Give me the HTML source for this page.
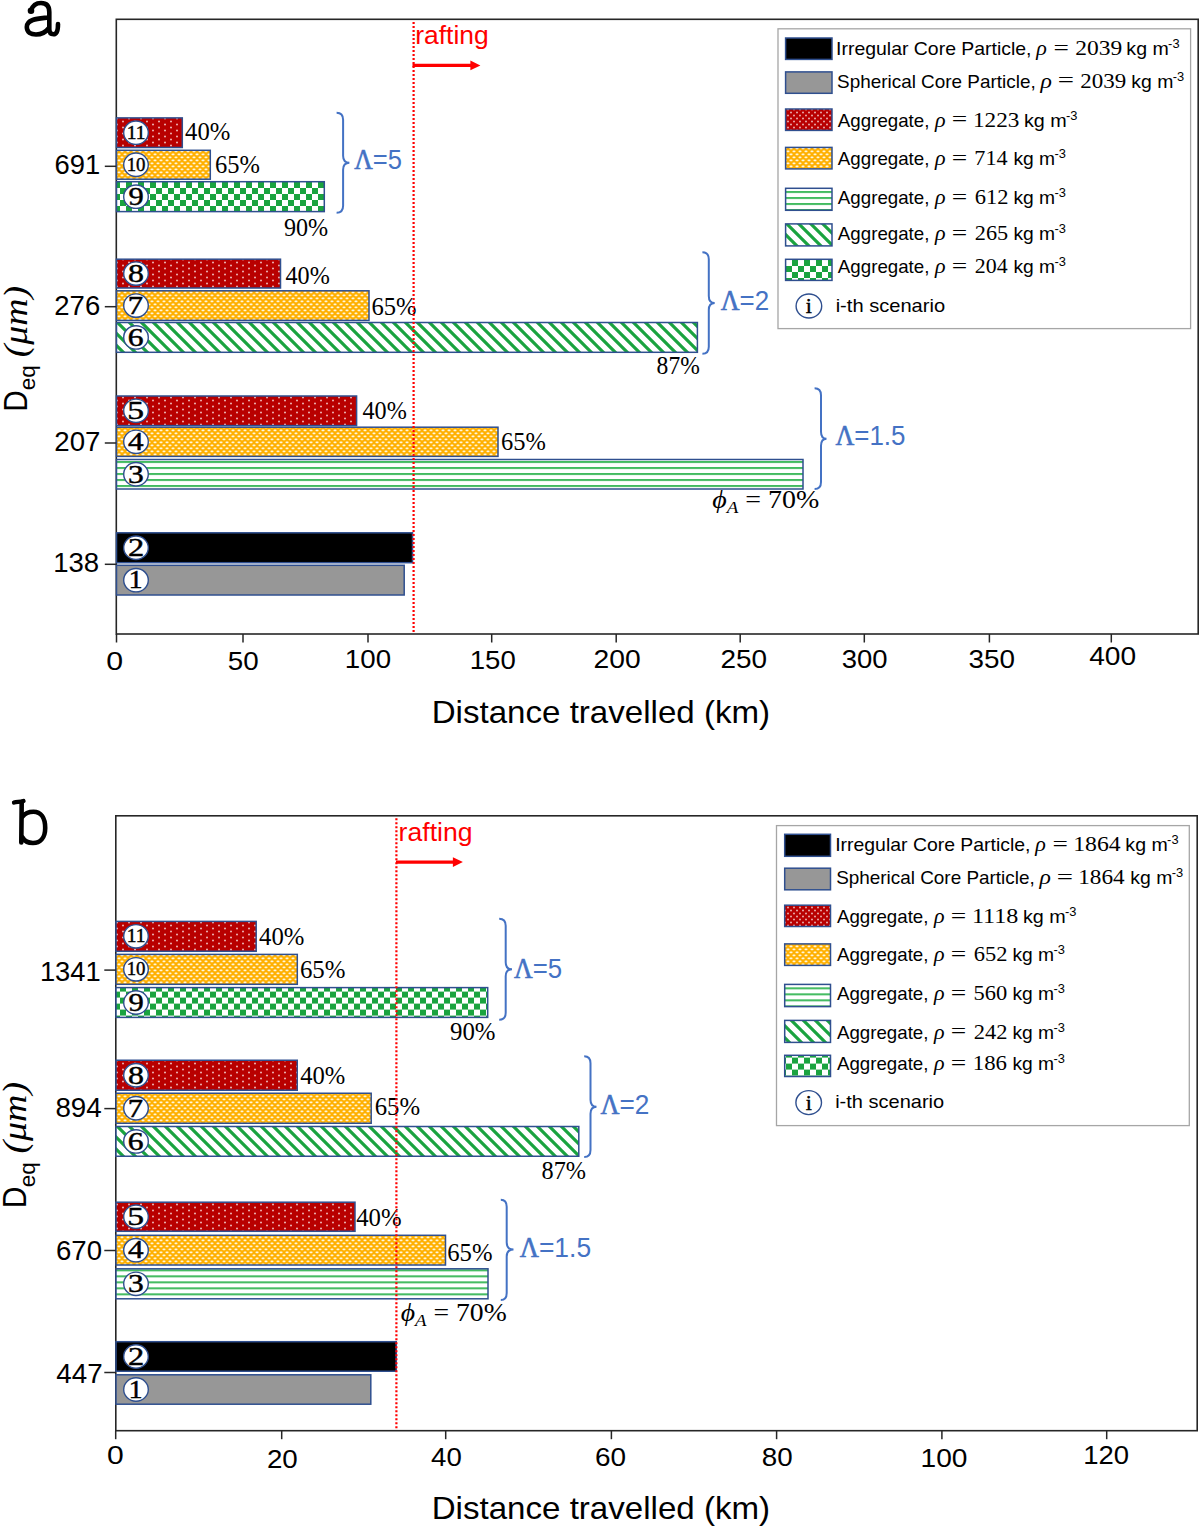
<!DOCTYPE html>
<html><head><meta charset="utf-8"><title>Distance travelled</title><style>html,body{margin:0;padding:0;background:#fff;}svg{display:block;}</style></head><body>
<svg width="1200" height="1527" viewBox="0 0 1200 1527">
<defs>
<pattern id="pRed" width="12" height="6" patternUnits="userSpaceOnUse">
<rect width="12" height="6" fill="#B80000"/>
<rect x="2.2" y="0.7" width="1.6" height="1.6" fill="#F5D0D0"/>
<rect x="8.2" y="3.7" width="1.6" height="1.6" fill="#F5D0D0"/>
</pattern>
<pattern id="pRedL" width="6" height="6" patternUnits="userSpaceOnUse">
<rect width="6" height="6" fill="#B80000"/>
<rect x="1.2" y="0.7" width="1.6" height="1.6" fill="#F0C4C4"/>
<rect x="4.2" y="3.7" width="1.6" height="1.6" fill="#F0C4C4"/>
</pattern>
<pattern id="pYel" width="6" height="6" patternUnits="userSpaceOnUse">
<rect width="6" height="6" fill="#FFB000"/>
<rect x="0.5" y="0.5" width="3" height="1.8" rx="0.8" fill="#FFF6DA"/>
<rect x="3.5" y="3.5" width="3" height="1.8" rx="0.8" fill="#FFF6DA"/>
<rect x="-2.5" y="3.5" width="3" height="1.8" rx="0.8" fill="#FFF6DA"/>
</pattern>
<pattern id="pChkA" width="12" height="12" patternUnits="userSpaceOnUse" patternTransform="translate(0,2)">
<rect width="12" height="12" fill="#fff"/>
<rect x="6" y="0" width="6" height="6" fill="#1AA33F"/>
<rect x="0" y="6" width="6" height="6" fill="#1AA33F"/>
</pattern>
<pattern id="pChkB" width="12" height="12" patternUnits="userSpaceOnUse" patternTransform="translate(0,1.6)">
<rect width="12" height="12" fill="#fff"/>
<rect x="0" y="0" width="6" height="6" fill="#1AA33F"/>
<rect x="6" y="6" width="6" height="6" fill="#1AA33F"/>
</pattern>
<pattern id="pDiagA" width="12" height="12" patternUnits="userSpaceOnUse" patternTransform="translate(-1,0)">
<rect width="12" height="12" fill="#fff"/>
<path d="M-3,-3 L15,15 M-15,-3 L3,15 M9,-3 L27,15" stroke="#1AA33F" stroke-width="3.2"/>
</pattern>
<pattern id="pDiagB" width="12" height="12" patternUnits="userSpaceOnUse" patternTransform="translate(-1,0)">
<rect width="12" height="12" fill="#fff"/>
<path d="M-3,-3 L15,15 M-15,-3 L3,15 M9,-3 L27,15" stroke="#1AA33F" stroke-width="3.2"/>
</pattern>
<pattern id="pHstA" width="6" height="6" patternUnits="userSpaceOnUse" patternTransform="translate(0,-0.9)">
<rect width="6" height="6" fill="#fff"/>
<rect x="0" y="0" width="6" height="1.8" fill="#2DB34E"/>
</pattern>
<pattern id="pHstB" width="6" height="6" patternUnits="userSpaceOnUse" patternTransform="translate(0,3.4)">
<rect width="6" height="6" fill="#fff"/>
<rect x="0" y="0" width="6" height="1.8" fill="#2DB34E"/>
</pattern>
</defs>
<rect width="1200" height="1527" fill="#fff"/>
<g fill="none" stroke="#000" stroke-linecap="round"><path d="M31,10.5 C33,4.5 37,3 41,3 C46.5,3 49.3,6 49.3,12 L49.3,29 C49.3,33 51,34.3 53.5,34.3 C56.5,34.3 58,32 58,24" stroke-width="4.6"/><path d="M48,17.5 C40,18.5 26.8,18.5 26.8,27 C26.8,32.5 31,34.5 36,34.5 C41,34.5 45.5,32.5 48.5,28.5" stroke-width="4.6"/></g><circle cx="31" cy="10.8" r="3.3" fill="#000"/>
<g fill="none" stroke="#000" stroke-linecap="round"><path d="M21.7,802 L21.3,842.5" stroke-width="4.6"/><path d="M14,802.5 C17,801.5 20,802.5 23.5,801" stroke-width="4.3"/><path d="M22.5,816.5 C25.5,812.5 29.5,811.7 33.5,811.7 C41,811.7 45.2,818 45.2,828 C45.2,838 40,843 33,843 C28.5,843 24.5,841 22.5,837.5" stroke-width="4.6"/></g>
<rect x="116.3" y="19.3" width="1081.9" height="614.7" fill="none" stroke="#262626" stroke-width="1.6"/>
<rect x="116.5" y="117.9" width="65.80000000000001" height="29.599999999999994" fill="url(#pRed)" stroke="#2F4F8F" stroke-width="1.5"/>
<ellipse cx="136" cy="132.7" rx="12.3" ry="11.7" fill="#fff" stroke="#2F4F8F" stroke-width="1.4"/>
<text x="126.7" y="138.7" font-family='"Liberation Serif", serif' font-size="18" fill="#000" text-anchor="start" textLength="18.8" lengthAdjust="spacingAndGlyphs" stroke="#000" stroke-width="0.4">11</text>
<rect x="116.5" y="150.3" width="93.80000000000001" height="28.899999999999977" fill="url(#pYel)" stroke="#2F4F8F" stroke-width="1.5"/>
<ellipse cx="136" cy="164.75" rx="12.3" ry="11.7" fill="#fff" stroke="#2F4F8F" stroke-width="1.4"/>
<text x="126.7" y="170.75" font-family='"Liberation Serif", serif' font-size="18" fill="#000" text-anchor="start" textLength="18.8" lengthAdjust="spacingAndGlyphs" stroke="#000" stroke-width="0.4">10</text>
<rect x="116.5" y="181.7" width="207.8" height="29.900000000000006" fill="url(#pChkA)" stroke="#2F4F8F" stroke-width="1.5"/>
<ellipse cx="136" cy="196.64999999999998" rx="12.3" ry="11.7" fill="#fff" stroke="#2F4F8F" stroke-width="1.4"/>
<text x="128.52" y="204.95" font-family='"Liberation Serif", serif' font-size="24.5" fill="#000" text-anchor="start" textLength="15.23" lengthAdjust="spacingAndGlyphs" stroke="#000" stroke-width="0.45">9</text>
<rect x="116.5" y="259.2" width="164.0" height="28.80000000000001" fill="url(#pRed)" stroke="#2F4F8F" stroke-width="1.5"/>
<ellipse cx="136" cy="273.6" rx="12.3" ry="11.7" fill="#fff" stroke="#2F4F8F" stroke-width="1.4"/>
<text x="128.04" y="281.90000000000003" font-family='"Liberation Serif", serif' font-size="24.5" fill="#000" text-anchor="start" textLength="15.93" lengthAdjust="spacingAndGlyphs" stroke="#000" stroke-width="0.45">8</text>
<rect x="116.5" y="290.8" width="252.5" height="29.599999999999966" fill="url(#pYel)" stroke="#2F4F8F" stroke-width="1.5"/>
<ellipse cx="136" cy="305.6" rx="12.3" ry="11.7" fill="#fff" stroke="#2F4F8F" stroke-width="1.4"/>
<text x="127.78" y="313.90000000000003" font-family='"Liberation Serif", serif' font-size="24.5" fill="#000" text-anchor="start" textLength="15.3" lengthAdjust="spacingAndGlyphs" stroke="#000" stroke-width="0.45">7</text>
<rect x="116.5" y="322.5" width="580.9" height="29.80000000000001" fill="url(#pDiagA)" stroke="#2F4F8F" stroke-width="1.5"/>
<ellipse cx="136" cy="337.4" rx="12.3" ry="11.7" fill="#fff" stroke="#2F4F8F" stroke-width="1.4"/>
<text x="127.89" y="345.7" font-family='"Liberation Serif", serif' font-size="24.5" fill="#000" text-anchor="start" textLength="15.8" lengthAdjust="spacingAndGlyphs" stroke="#000" stroke-width="0.45">6</text>
<rect x="116.5" y="396.0" width="240.10000000000002" height="29.600000000000023" fill="url(#pRed)" stroke="#2F4F8F" stroke-width="1.5"/>
<ellipse cx="136" cy="410.8" rx="12.3" ry="11.7" fill="#fff" stroke="#2F4F8F" stroke-width="1.4"/>
<text x="127.3" y="419.1" font-family='"Liberation Serif", serif' font-size="24.5" fill="#000" text-anchor="start" textLength="16.76" lengthAdjust="spacingAndGlyphs" stroke="#000" stroke-width="0.45">5</text>
<rect x="116.5" y="427.2" width="381.5" height="29.19999999999999" fill="url(#pYel)" stroke="#2F4F8F" stroke-width="1.5"/>
<ellipse cx="136" cy="441.79999999999995" rx="12.3" ry="11.7" fill="#fff" stroke="#2F4F8F" stroke-width="1.4"/>
<text x="128.14" y="450.09999999999997" font-family='"Liberation Serif", serif' font-size="24.5" fill="#000" text-anchor="start" textLength="15.6" lengthAdjust="spacingAndGlyphs" stroke="#000" stroke-width="0.45">4</text>
<rect x="116.5" y="459.5" width="686.5" height="29.5" fill="url(#pHstA)" stroke="#2F4F8F" stroke-width="1.5"/>
<ellipse cx="136" cy="474.25" rx="12.3" ry="11.7" fill="#fff" stroke="#2F4F8F" stroke-width="1.4"/>
<text x="127.99" y="482.55" font-family='"Liberation Serif", serif' font-size="24.5" fill="#000" text-anchor="start" textLength="15.74" lengthAdjust="spacingAndGlyphs" stroke="#000" stroke-width="0.45">3</text>
<rect x="116.5" y="532.8" width="296.0" height="29.90000000000009" fill="#000" stroke="#2F4F8F" stroke-width="1.5"/>
<ellipse cx="136" cy="547.75" rx="12.3" ry="11.7" fill="#fff" stroke="#2F4F8F" stroke-width="1.4"/>
<text x="128.07" y="556.05" font-family='"Liberation Serif", serif' font-size="24.5" fill="#000" text-anchor="start" textLength="16.21" lengthAdjust="spacingAndGlyphs" stroke="#000" stroke-width="0.45">2</text>
<rect x="116.5" y="565.3" width="287.7" height="29.700000000000045" fill="#979797" stroke="#2F4F8F" stroke-width="1.5"/>
<ellipse cx="136" cy="580.15" rx="12.3" ry="11.7" fill="#fff" stroke="#2F4F8F" stroke-width="1.4"/>
<text x="128.73" y="588.4499999999999" font-family='"Liberation Serif", serif' font-size="24.5" fill="#000" text-anchor="start" textLength="13.78" lengthAdjust="spacingAndGlyphs" stroke="#000" stroke-width="0.45">1</text>
<line x1="104.8" y1="166.3" x2="116.3" y2="166.3" stroke="#262626" stroke-width="1.5"/>
<text x="54.61" y="174.3" font-family='"Liberation Sans", sans-serif' font-size="28.4" fill="#000" text-anchor="start" textLength="45.73" lengthAdjust="spacingAndGlyphs" >691</text>
<line x1="104.8" y1="306.7" x2="116.3" y2="306.7" stroke="#262626" stroke-width="1.5"/>
<text x="54.32" y="315.3" font-family='"Liberation Sans", sans-serif' font-size="28.4" fill="#000" text-anchor="start" textLength="45.89" lengthAdjust="spacingAndGlyphs" >276</text>
<line x1="104.8" y1="443.0" x2="116.3" y2="443.0" stroke="#262626" stroke-width="1.5"/>
<text x="54.31" y="451.0" font-family='"Liberation Sans", sans-serif' font-size="28.4" fill="#000" text-anchor="start" textLength="46.08" lengthAdjust="spacingAndGlyphs" >207</text>
<line x1="104.8" y1="564.3" x2="116.3" y2="564.3" stroke="#262626" stroke-width="1.5"/>
<text x="53.2" y="572.3" font-family='"Liberation Sans", sans-serif' font-size="28.4" fill="#000" text-anchor="start" textLength="46.0" lengthAdjust="spacingAndGlyphs" >138</text>
<line x1="116.5" y1="634.0" x2="116.5" y2="642.5" stroke="#262626" stroke-width="1.5"/>
<text x="106.32" y="670.0" font-family='"Liberation Sans", sans-serif' font-size="26.5" fill="#000" text-anchor="start" textLength="16.87" lengthAdjust="spacingAndGlyphs" >0</text>
<line x1="243.0" y1="634.0" x2="243.0" y2="642.5" stroke="#262626" stroke-width="1.5"/>
<text x="227.69" y="670.0" font-family='"Liberation Sans", sans-serif' font-size="26.5" fill="#000" text-anchor="start" textLength="30.9" lengthAdjust="spacingAndGlyphs" >50</text>
<line x1="368.0" y1="634.0" x2="368.0" y2="642.5" stroke="#262626" stroke-width="1.5"/>
<text x="344.89" y="668.0" font-family='"Liberation Sans", sans-serif' font-size="26.5" fill="#000" text-anchor="start" textLength="46.19" lengthAdjust="spacingAndGlyphs" >100</text>
<line x1="491.7" y1="634.0" x2="491.7" y2="642.5" stroke="#262626" stroke-width="1.5"/>
<text x="469.8" y="669.0" font-family='"Liberation Sans", sans-serif' font-size="26.5" fill="#000" text-anchor="start" textLength="45.98" lengthAdjust="spacingAndGlyphs" >150</text>
<line x1="616.2" y1="634.0" x2="616.2" y2="642.5" stroke="#262626" stroke-width="1.5"/>
<text x="593.58" y="668.0" font-family='"Liberation Sans", sans-serif' font-size="26.5" fill="#000" text-anchor="start" textLength="47.12" lengthAdjust="spacingAndGlyphs" >200</text>
<line x1="740.2" y1="634.0" x2="740.2" y2="642.5" stroke="#262626" stroke-width="1.5"/>
<text x="720.4" y="668.0" font-family='"Liberation Sans", sans-serif' font-size="26.5" fill="#000" text-anchor="start" textLength="46.6" lengthAdjust="spacingAndGlyphs" >250</text>
<line x1="864.3" y1="634.0" x2="864.3" y2="642.5" stroke="#262626" stroke-width="1.5"/>
<text x="841.75" y="668.0" font-family='"Liberation Sans", sans-serif' font-size="26.5" fill="#000" text-anchor="start" textLength="45.82" lengthAdjust="spacingAndGlyphs" >300</text>
<line x1="989.4" y1="634.0" x2="989.4" y2="642.5" stroke="#262626" stroke-width="1.5"/>
<text x="968.44" y="667.5" font-family='"Liberation Sans", sans-serif' font-size="26.5" fill="#000" text-anchor="start" textLength="46.45" lengthAdjust="spacingAndGlyphs" >350</text>
<line x1="1111.3" y1="634.0" x2="1111.3" y2="642.5" stroke="#262626" stroke-width="1.5"/>
<text x="1089.15" y="665.0" font-family='"Liberation Sans", sans-serif' font-size="26.5" fill="#000" text-anchor="start" textLength="46.94" lengthAdjust="spacingAndGlyphs" >400</text>
<text x="431.69" y="722.5" font-family='"Liberation Sans", sans-serif' font-size="32" fill="#000" text-anchor="start" textLength="338.37" lengthAdjust="spacingAndGlyphs" >Distance travelled (km)</text>
<text transform="translate(26.5,409.3) rotate(-90)" x="-2.42" y="0" font-family='"Liberation Sans", sans-serif' font-size="32.6" textLength="21.34" lengthAdjust="spacingAndGlyphs">D</text>
<text transform="translate(35.0,389.4) rotate(-90)" x="-0.95" y="0" font-family='"Liberation Sans", sans-serif' font-size="22.8" textLength="24.99" lengthAdjust="spacingAndGlyphs">eq</text>
<text transform="translate(26.5,356.0) rotate(-90)" x="-1.33" y="0" font-family='"Liberation Serif", serif' font-size="33" textLength="71.29" lengthAdjust="spacingAndGlyphs" font-style="italic">(μm)</text>
<text x="185.12" y="140.1" font-family='"Liberation Serif", serif' font-size="25" fill="#000" text-anchor="start" textLength="45.23" lengthAdjust="spacingAndGlyphs" >40%</text>
<text x="214.95" y="173.1" font-family='"Liberation Serif", serif' font-size="25" fill="#000" text-anchor="start" textLength="44.99" lengthAdjust="spacingAndGlyphs" >65%</text>
<text x="283.92" y="236.0" font-family='"Liberation Serif", serif' font-size="25" fill="#000" text-anchor="start" textLength="44.2" lengthAdjust="spacingAndGlyphs" >90%</text>
<text x="285.53" y="284.0" font-family='"Liberation Serif", serif' font-size="25" fill="#000" text-anchor="start" textLength="44.3" lengthAdjust="spacingAndGlyphs" >40%</text>
<text x="371.44" y="315.4" font-family='"Liberation Serif", serif' font-size="25" fill="#000" text-anchor="start" textLength="45.1" lengthAdjust="spacingAndGlyphs" >65%</text>
<text x="656.6" y="374.2" font-family='"Liberation Serif", serif' font-size="25" fill="#000" text-anchor="start" textLength="43.2" lengthAdjust="spacingAndGlyphs" >87%</text>
<text x="362.53" y="419.0" font-family='"Liberation Serif", serif' font-size="25" fill="#000" text-anchor="start" textLength="44.3" lengthAdjust="spacingAndGlyphs" >40%</text>
<text x="500.95" y="450.4" font-family='"Liberation Serif", serif' font-size="25" fill="#000" text-anchor="start" textLength="44.89" lengthAdjust="spacingAndGlyphs" >65%</text>
<text x="712.16" y="508.4" font-family='"Liberation Serif", serif' font-size="25" fill="#000" text-anchor="start" textLength="107.1" lengthAdjust="spacingAndGlyphs" ><tspan font-style="italic">ϕ</tspan><tspan font-style="italic" font-size="17" dy="5">A</tspan><tspan dy="-5"> = 70%</tspan></text>
<path d="M336.6,112.8 Q343.1,112.8 343.1,119.8 L343.1,155.8 Q343.1,162.8 349.4,162.8 Q343.1,162.8 343.1,169.8 L343.1,205.8 Q343.1,212.8 336.6,212.8" fill="none" stroke="#4472C4" stroke-width="2"/>
<path d="M702.4,252.3 Q708.8,252.3 708.8,259.3 L708.8,296.0 Q708.8,303.0 714.7,303.0 Q708.8,303.0 708.8,310.0 L708.8,346.8 Q708.8,353.8 702.4,353.8" fill="none" stroke="#4472C4" stroke-width="2"/>
<path d="M814.6,388.3 Q821.0,388.3 821.0,395.3 L821.0,431.7 Q821.0,438.7 826.5,438.7 Q821.0,438.7 821.0,445.7 L821.0,482.0 Q821.0,489.0 814.6,489.0" fill="none" stroke="#4472C4" stroke-width="2"/>
<text x="354.25" y="168.5" font-family='"Liberation Sans", sans-serif' font-size="28.4" fill="#4472C4" text-anchor="start" textLength="47.72" lengthAdjust="spacingAndGlyphs" ><tspan font-family='"Liberation Serif", serif' stroke="#4472C4" stroke-width="0.6">Λ</tspan>=5</text>
<text x="720.75" y="310.0" font-family='"Liberation Sans", sans-serif' font-size="28.4" fill="#4472C4" text-anchor="start" textLength="48.36" lengthAdjust="spacingAndGlyphs" ><tspan font-family='"Liberation Serif", serif' stroke="#4472C4" stroke-width="0.6">Λ</tspan>=2</text>
<text x="835.45" y="444.6" font-family='"Liberation Sans", sans-serif' font-size="28.4" fill="#4472C4" text-anchor="start" textLength="70.04" lengthAdjust="spacingAndGlyphs" ><tspan font-family='"Liberation Serif", serif' stroke="#4472C4" stroke-width="0.6">Λ</tspan>=1.5</text>
<line x1="413.6" y1="22.0" x2="413.6" y2="633.0" stroke="#FF0000" stroke-width="2.2" stroke-dasharray="2 2"/>
<text x="415.24" y="44.2" font-family='"Liberation Sans", sans-serif' font-size="25.4" fill="#FF0000" text-anchor="start" textLength="73.46" lengthAdjust="spacingAndGlyphs" >rafting</text>
<line x1="412.5" y1="65.4" x2="472.4" y2="65.4" stroke="#FF0000" stroke-width="3.3"/>
<path d="M470.4,60.60000000000001 L480.4,65.4 L470.4,70.2 Z" fill="#FF0000"/>
<rect x="778.0" y="28.8" width="412.5999999999999" height="299.8" fill="#fff" stroke="#A6A6A6" stroke-width="1.3"/>
<rect x="785.6" y="38.0" width="46.39999999999998" height="21.4" fill="#000" stroke="#2F4F8F" stroke-width="1.5"/>
<rect x="785.6" y="71.9" width="46.39999999999998" height="21.39999999999999" fill="#979797" stroke="#2F4F8F" stroke-width="1.5"/>
<rect x="785.6" y="109.0" width="46.39999999999998" height="21.400000000000006" fill="url(#pRedL)" stroke="#2F4F8F" stroke-width="1.5"/>
<rect x="785.6" y="147.4" width="46.39999999999998" height="21.5" fill="url(#pYel)" stroke="#2F4F8F" stroke-width="1.5"/>
<rect x="785.6" y="188.3" width="46.39999999999998" height="22.0" fill="url(#pHstA)" stroke="#2F4F8F" stroke-width="1.5"/>
<rect x="785.6" y="223.9" width="46.39999999999998" height="22.0" fill="url(#pDiagA)" stroke="#2F4F8F" stroke-width="1.5"/>
<rect x="785.6" y="259.3" width="46.39999999999998" height="21.099999999999966" fill="url(#pChkA)" stroke="#2F4F8F" stroke-width="1.5"/>
<text x="836.11" y="55.0" font-family='"Liberation Sans", sans-serif' font-size="19.0" fill="#000" text-anchor="start" textLength="195.39" lengthAdjust="spacingAndGlyphs" >Irregular Core Particle,</text>
<text x="1036.31" y="55.0" font-family='"Liberation Serif", serif' font-size="21.0" fill="#000" text-anchor="start" textLength="10.61" lengthAdjust="spacingAndGlyphs" font-style="italic">ρ</text>
<text x="1053.54" y="54.7" font-family='"Liberation Serif", serif' font-size="21.0" fill="#000" text-anchor="start" textLength="15.39" lengthAdjust="spacingAndGlyphs" >=</text>
<text x="1075.27" y="55.0" font-family='"Liberation Serif", serif' font-size="21.0" fill="#000" text-anchor="start" textLength="47.0" lengthAdjust="spacingAndGlyphs" >2039</text>
<text x="1126.38" y="55.0" font-family='"Liberation Sans", sans-serif' font-size="19.0" fill="#000" text-anchor="start" textLength="42.41" lengthAdjust="spacingAndGlyphs" >kg m</text>
<text x="1168.13" y="48.0" font-family='"Liberation Sans", sans-serif' font-size="12.5" fill="#000" text-anchor="start" textLength="11.44" lengthAdjust="spacingAndGlyphs" >-3</text>
<text x="837.04" y="87.5" font-family='"Liberation Sans", sans-serif' font-size="19.0" fill="#000" text-anchor="start" textLength="198.66" lengthAdjust="spacingAndGlyphs" >Spherical Core Particle,</text>
<text x="1040.6" y="87.5" font-family='"Liberation Serif", serif' font-size="21.0" fill="#000" text-anchor="start" textLength="11.42" lengthAdjust="spacingAndGlyphs" font-style="italic">ρ</text>
<text x="1057.87" y="87.2" font-family='"Liberation Serif", serif' font-size="21.0" fill="#000" text-anchor="start" textLength="16.24" lengthAdjust="spacingAndGlyphs" >=</text>
<text x="1080.29" y="87.5" font-family='"Liberation Serif", serif' font-size="21.0" fill="#000" text-anchor="start" textLength="45.95" lengthAdjust="spacingAndGlyphs" >2039</text>
<text x="1131.39" y="87.5" font-family='"Liberation Sans", sans-serif' font-size="19.0" fill="#000" text-anchor="start" textLength="42.09" lengthAdjust="spacingAndGlyphs" >kg m</text>
<text x="1172.83" y="80.5" font-family='"Liberation Sans", sans-serif' font-size="12.5" fill="#000" text-anchor="start" textLength="11.44" lengthAdjust="spacingAndGlyphs" >-3</text>
<text x="837.86" y="126.5" font-family='"Liberation Sans", sans-serif' font-size="19.0" fill="#000" text-anchor="start" textLength="91.57" lengthAdjust="spacingAndGlyphs" >Aggregate,</text>
<text x="935.06" y="126.5" font-family='"Liberation Serif", serif' font-size="21.0" fill="#000" text-anchor="start" textLength="10.61" lengthAdjust="spacingAndGlyphs" font-style="italic">ρ</text>
<text x="951.89" y="126.2" font-family='"Liberation Serif", serif' font-size="21.0" fill="#000" text-anchor="start" textLength="15.45" lengthAdjust="spacingAndGlyphs" >=</text>
<text x="972.96" y="126.5" font-family='"Liberation Serif", serif' font-size="21.0" fill="#000" text-anchor="start" textLength="46.45" lengthAdjust="spacingAndGlyphs" >1223</text>
<text x="1023.92" y="126.5" font-family='"Liberation Sans", sans-serif' font-size="19.0" fill="#000" text-anchor="start" textLength="42.78" lengthAdjust="spacingAndGlyphs" >kg m</text>
<text x="1066.03" y="119.5" font-family='"Liberation Sans", sans-serif' font-size="12.5" fill="#000" text-anchor="start" textLength="11.44" lengthAdjust="spacingAndGlyphs" >-3</text>
<text x="837.86" y="165.3" font-family='"Liberation Sans", sans-serif' font-size="19.0" fill="#000" text-anchor="start" textLength="91.57" lengthAdjust="spacingAndGlyphs" >Aggregate,</text>
<text x="935.06" y="165.3" font-family='"Liberation Serif", serif' font-size="21.0" fill="#000" text-anchor="start" textLength="10.61" lengthAdjust="spacingAndGlyphs" font-style="italic">ρ</text>
<text x="951.89" y="165.0" font-family='"Liberation Serif", serif' font-size="21.0" fill="#000" text-anchor="start" textLength="15.45" lengthAdjust="spacingAndGlyphs" >=</text>
<text x="974.29" y="165.3" font-family='"Liberation Serif", serif' font-size="21.0" fill="#000" text-anchor="start" textLength="33.31" lengthAdjust="spacingAndGlyphs" >714</text>
<text x="1013.45" y="165.3" font-family='"Liberation Sans", sans-serif' font-size="19.0" fill="#000" text-anchor="start" textLength="41.72" lengthAdjust="spacingAndGlyphs" >kg m</text>
<text x="1054.53" y="158.3" font-family='"Liberation Sans", sans-serif' font-size="12.5" fill="#000" text-anchor="start" textLength="11.44" lengthAdjust="spacingAndGlyphs" >-3</text>
<text x="837.86" y="204.2" font-family='"Liberation Sans", sans-serif' font-size="19.0" fill="#000" text-anchor="start" textLength="91.57" lengthAdjust="spacingAndGlyphs" >Aggregate,</text>
<text x="935.06" y="204.2" font-family='"Liberation Serif", serif' font-size="21.0" fill="#000" text-anchor="start" textLength="10.61" lengthAdjust="spacingAndGlyphs" font-style="italic">ρ</text>
<text x="951.89" y="203.89999999999998" font-family='"Liberation Serif", serif' font-size="21.0" fill="#000" text-anchor="start" textLength="15.45" lengthAdjust="spacingAndGlyphs" >=</text>
<text x="974.78" y="204.2" font-family='"Liberation Serif", serif' font-size="21.0" fill="#000" text-anchor="start" textLength="33.71" lengthAdjust="spacingAndGlyphs" >612</text>
<text x="1013.45" y="204.2" font-family='"Liberation Sans", sans-serif' font-size="19.0" fill="#000" text-anchor="start" textLength="41.72" lengthAdjust="spacingAndGlyphs" >kg m</text>
<text x="1054.53" y="197.2" font-family='"Liberation Sans", sans-serif' font-size="12.5" fill="#000" text-anchor="start" textLength="11.44" lengthAdjust="spacingAndGlyphs" >-3</text>
<text x="837.86" y="240.0" font-family='"Liberation Sans", sans-serif' font-size="19.0" fill="#000" text-anchor="start" textLength="91.57" lengthAdjust="spacingAndGlyphs" >Aggregate,</text>
<text x="935.06" y="240.0" font-family='"Liberation Serif", serif' font-size="21.0" fill="#000" text-anchor="start" textLength="10.61" lengthAdjust="spacingAndGlyphs" font-style="italic">ρ</text>
<text x="951.89" y="239.7" font-family='"Liberation Serif", serif' font-size="21.0" fill="#000" text-anchor="start" textLength="15.45" lengthAdjust="spacingAndGlyphs" >=</text>
<text x="974.77" y="240.0" font-family='"Liberation Serif", serif' font-size="21.0" fill="#000" text-anchor="start" textLength="33.35" lengthAdjust="spacingAndGlyphs" >265</text>
<text x="1013.45" y="240.0" font-family='"Liberation Sans", sans-serif' font-size="19.0" fill="#000" text-anchor="start" textLength="41.72" lengthAdjust="spacingAndGlyphs" >kg m</text>
<text x="1054.53" y="233.0" font-family='"Liberation Sans", sans-serif' font-size="12.5" fill="#000" text-anchor="start" textLength="11.44" lengthAdjust="spacingAndGlyphs" >-3</text>
<text x="837.86" y="273.2" font-family='"Liberation Sans", sans-serif' font-size="19.0" fill="#000" text-anchor="start" textLength="91.57" lengthAdjust="spacingAndGlyphs" >Aggregate,</text>
<text x="935.06" y="273.2" font-family='"Liberation Serif", serif' font-size="21.0" fill="#000" text-anchor="start" textLength="10.61" lengthAdjust="spacingAndGlyphs" font-style="italic">ρ</text>
<text x="951.89" y="272.9" font-family='"Liberation Serif", serif' font-size="21.0" fill="#000" text-anchor="start" textLength="15.45" lengthAdjust="spacingAndGlyphs" >=</text>
<text x="974.79" y="273.2" font-family='"Liberation Serif", serif' font-size="21.0" fill="#000" text-anchor="start" textLength="32.8" lengthAdjust="spacingAndGlyphs" >204</text>
<text x="1013.45" y="273.2" font-family='"Liberation Sans", sans-serif' font-size="19.0" fill="#000" text-anchor="start" textLength="41.72" lengthAdjust="spacingAndGlyphs" >kg m</text>
<text x="1054.53" y="266.2" font-family='"Liberation Sans", sans-serif' font-size="12.5" fill="#000" text-anchor="start" textLength="11.44" lengthAdjust="spacingAndGlyphs" >-3</text>
<ellipse cx="808.9" cy="306.0" rx="12.8" ry="12" fill="#fff" stroke="#2F4F8F" stroke-width="1.4"/>
<text x="808.9" y="313.2" font-family='"Liberation Serif", serif' font-size="22" fill="#000" text-anchor="middle" stroke="#000" stroke-width="0.4">i</text>
<text x="835.66" y="311.6" font-family='"Liberation Sans", sans-serif' font-size="19.0" fill="#000" text-anchor="start" textLength="109.49" lengthAdjust="spacingAndGlyphs" >i-th scenario</text>
<rect x="115.8" y="815.8" width="1081.4" height="614.9000000000001" fill="none" stroke="#262626" stroke-width="1.6"/>
<rect x="116.0" y="921.4" width="140.2" height="29.899999999999977" fill="url(#pRed)" stroke="#2F4F8F" stroke-width="1.5"/>
<ellipse cx="136" cy="936.3499999999999" rx="12.3" ry="11.7" fill="#fff" stroke="#2F4F8F" stroke-width="1.4"/>
<text x="126.7" y="942.3499999999999" font-family='"Liberation Serif", serif' font-size="18" fill="#000" text-anchor="start" textLength="18.8" lengthAdjust="spacingAndGlyphs" stroke="#000" stroke-width="0.4">11</text>
<rect x="116.0" y="954.4" width="181.3" height="29.899999999999977" fill="url(#pYel)" stroke="#2F4F8F" stroke-width="1.5"/>
<ellipse cx="136" cy="969.3499999999999" rx="12.3" ry="11.7" fill="#fff" stroke="#2F4F8F" stroke-width="1.4"/>
<text x="126.7" y="975.3499999999999" font-family='"Liberation Serif", serif' font-size="18" fill="#000" text-anchor="start" textLength="18.8" lengthAdjust="spacingAndGlyphs" stroke="#000" stroke-width="0.4">10</text>
<rect x="116.0" y="987.6" width="371.7" height="29.799999999999955" fill="url(#pChkB)" stroke="#2F4F8F" stroke-width="1.5"/>
<ellipse cx="136" cy="1002.5" rx="12.3" ry="11.7" fill="#fff" stroke="#2F4F8F" stroke-width="1.4"/>
<text x="128.52" y="1010.8" font-family='"Liberation Serif", serif' font-size="24.5" fill="#000" text-anchor="start" textLength="15.23" lengthAdjust="spacingAndGlyphs" stroke="#000" stroke-width="0.45">9</text>
<rect x="116.0" y="1060.25" width="181.25" height="30.0" fill="url(#pRed)" stroke="#2F4F8F" stroke-width="1.5"/>
<ellipse cx="136" cy="1075.25" rx="12.3" ry="11.7" fill="#fff" stroke="#2F4F8F" stroke-width="1.4"/>
<text x="128.04" y="1083.55" font-family='"Liberation Serif", serif' font-size="24.5" fill="#000" text-anchor="start" textLength="15.93" lengthAdjust="spacingAndGlyphs" stroke="#000" stroke-width="0.45">8</text>
<rect x="116.0" y="1093.25" width="255.2" height="30.0" fill="url(#pYel)" stroke="#2F4F8F" stroke-width="1.5"/>
<ellipse cx="136" cy="1108.25" rx="12.3" ry="11.7" fill="#fff" stroke="#2F4F8F" stroke-width="1.4"/>
<text x="127.78" y="1116.55" font-family='"Liberation Serif", serif' font-size="24.5" fill="#000" text-anchor="start" textLength="15.3" lengthAdjust="spacingAndGlyphs" stroke="#000" stroke-width="0.45">7</text>
<rect x="116.0" y="1126.5" width="462.79999999999995" height="29.75" fill="url(#pDiagB)" stroke="#2F4F8F" stroke-width="1.5"/>
<ellipse cx="136" cy="1141.375" rx="12.3" ry="11.7" fill="#fff" stroke="#2F4F8F" stroke-width="1.4"/>
<text x="127.89" y="1149.675" font-family='"Liberation Serif", serif' font-size="24.5" fill="#000" text-anchor="start" textLength="15.8" lengthAdjust="spacingAndGlyphs" stroke="#000" stroke-width="0.45">6</text>
<rect x="116.0" y="1202.2" width="239.0" height="29.09999999999991" fill="url(#pRed)" stroke="#2F4F8F" stroke-width="1.5"/>
<ellipse cx="136" cy="1216.75" rx="12.3" ry="11.7" fill="#fff" stroke="#2F4F8F" stroke-width="1.4"/>
<text x="127.3" y="1225.05" font-family='"Liberation Serif", serif' font-size="24.5" fill="#000" text-anchor="start" textLength="16.76" lengthAdjust="spacingAndGlyphs" stroke="#000" stroke-width="0.45">5</text>
<rect x="116.0" y="1235.3" width="329.5" height="29.700000000000045" fill="url(#pYel)" stroke="#2F4F8F" stroke-width="1.5"/>
<ellipse cx="136" cy="1250.15" rx="12.3" ry="11.7" fill="#fff" stroke="#2F4F8F" stroke-width="1.4"/>
<text x="128.14" y="1258.45" font-family='"Liberation Serif", serif' font-size="24.5" fill="#000" text-anchor="start" textLength="15.6" lengthAdjust="spacingAndGlyphs" stroke="#000" stroke-width="0.45">4</text>
<rect x="116.0" y="1268.8" width="372.0" height="30.0" fill="url(#pHstB)" stroke="#2F4F8F" stroke-width="1.5"/>
<ellipse cx="136" cy="1283.8" rx="12.3" ry="11.7" fill="#fff" stroke="#2F4F8F" stroke-width="1.4"/>
<text x="127.99" y="1292.1" font-family='"Liberation Serif", serif' font-size="24.5" fill="#000" text-anchor="start" textLength="15.74" lengthAdjust="spacingAndGlyphs" stroke="#000" stroke-width="0.45">3</text>
<rect x="116.0" y="1341.7" width="280.25" height="29.549999999999955" fill="#000" stroke="#2F4F8F" stroke-width="1.5"/>
<ellipse cx="136" cy="1356.475" rx="12.3" ry="11.7" fill="#fff" stroke="#2F4F8F" stroke-width="1.4"/>
<text x="128.07" y="1364.7749999999999" font-family='"Liberation Serif", serif' font-size="24.5" fill="#000" text-anchor="start" textLength="16.21" lengthAdjust="spacingAndGlyphs" stroke="#000" stroke-width="0.45">2</text>
<rect x="116.0" y="1374.8" width="254.8" height="29.40000000000009" fill="#979797" stroke="#2F4F8F" stroke-width="1.5"/>
<ellipse cx="136" cy="1389.5" rx="12.3" ry="11.7" fill="#fff" stroke="#2F4F8F" stroke-width="1.4"/>
<text x="128.73" y="1397.8" font-family='"Liberation Serif", serif' font-size="24.5" fill="#000" text-anchor="start" textLength="13.78" lengthAdjust="spacingAndGlyphs" stroke="#000" stroke-width="0.45">1</text>
<line x1="104.3" y1="970.1" x2="115.8" y2="970.1" stroke="#262626" stroke-width="1.5"/>
<text x="39.92" y="981.4" font-family='"Liberation Sans", sans-serif' font-size="28.4" fill="#000" text-anchor="start" textLength="60.82" lengthAdjust="spacingAndGlyphs" >1341</text>
<line x1="104.3" y1="1108.6" x2="115.8" y2="1108.6" stroke="#262626" stroke-width="1.5"/>
<text x="55.39" y="1116.9" font-family='"Liberation Sans", sans-serif' font-size="28.4" fill="#000" text-anchor="start" textLength="46.32" lengthAdjust="spacingAndGlyphs" >894</text>
<line x1="104.3" y1="1250.5" x2="115.8" y2="1250.5" stroke="#262626" stroke-width="1.5"/>
<text x="56.0" y="1260.3" font-family='"Liberation Sans", sans-serif' font-size="28.4" fill="#000" text-anchor="start" textLength="45.98" lengthAdjust="spacingAndGlyphs" >670</text>
<line x1="104.3" y1="1372.5" x2="115.8" y2="1372.5" stroke="#262626" stroke-width="1.5"/>
<text x="56.36" y="1383.0" font-family='"Liberation Sans", sans-serif' font-size="28.4" fill="#000" text-anchor="start" textLength="46.33" lengthAdjust="spacingAndGlyphs" >447</text>
<line x1="115.7" y1="1430.7" x2="115.7" y2="1439.2" stroke="#262626" stroke-width="1.5"/>
<text x="107.12" y="1464.0" font-family='"Liberation Sans", sans-serif' font-size="26.5" fill="#000" text-anchor="start" textLength="16.75" lengthAdjust="spacingAndGlyphs" >0</text>
<line x1="281.7" y1="1430.7" x2="281.7" y2="1439.2" stroke="#262626" stroke-width="1.5"/>
<text x="266.9" y="1468.3" font-family='"Liberation Sans", sans-serif' font-size="26.5" fill="#000" text-anchor="start" textLength="30.88" lengthAdjust="spacingAndGlyphs" >20</text>
<line x1="445.7" y1="1430.7" x2="445.7" y2="1439.2" stroke="#262626" stroke-width="1.5"/>
<text x="431.07" y="1466.0" font-family='"Liberation Sans", sans-serif' font-size="26.5" fill="#000" text-anchor="start" textLength="30.71" lengthAdjust="spacingAndGlyphs" >40</text>
<line x1="611.4" y1="1430.7" x2="611.4" y2="1439.2" stroke="#262626" stroke-width="1.5"/>
<text x="594.98" y="1466.0" font-family='"Liberation Sans", sans-serif' font-size="26.5" fill="#000" text-anchor="start" textLength="31.11" lengthAdjust="spacingAndGlyphs" >60</text>
<line x1="776.6" y1="1430.7" x2="776.6" y2="1439.2" stroke="#262626" stroke-width="1.5"/>
<text x="761.79" y="1466.0" font-family='"Liberation Sans", sans-serif' font-size="26.5" fill="#000" text-anchor="start" textLength="30.89" lengthAdjust="spacingAndGlyphs" >80</text>
<line x1="941.9" y1="1430.7" x2="941.9" y2="1439.2" stroke="#262626" stroke-width="1.5"/>
<text x="920.56" y="1467.0" font-family='"Liberation Sans", sans-serif' font-size="26.5" fill="#000" text-anchor="start" textLength="46.94" lengthAdjust="spacingAndGlyphs" >100</text>
<line x1="1106.7" y1="1430.7" x2="1106.7" y2="1439.2" stroke="#262626" stroke-width="1.5"/>
<text x="1083.21" y="1463.7" font-family='"Liberation Sans", sans-serif' font-size="26.5" fill="#000" text-anchor="start" textLength="45.87" lengthAdjust="spacingAndGlyphs" >120</text>
<text x="431.69" y="1519.0" font-family='"Liberation Sans", sans-serif' font-size="32" fill="#000" text-anchor="start" textLength="338.37" lengthAdjust="spacingAndGlyphs" >Distance travelled (km)</text>
<text transform="translate(26.3,1205.7) rotate(-90)" x="-2.47" y="0" font-family='"Liberation Sans", sans-serif' font-size="32.6" textLength="21.7" lengthAdjust="spacingAndGlyphs">D</text>
<text transform="translate(34.8,1186.3) rotate(-90)" x="-0.95" y="0" font-family='"Liberation Sans", sans-serif' font-size="22.8" textLength="24.88" lengthAdjust="spacingAndGlyphs">eq</text>
<text transform="translate(26.3,1152.2) rotate(-90)" x="-1.33" y="0" font-family='"Liberation Serif", serif' font-size="33" textLength="71.6" lengthAdjust="spacingAndGlyphs" font-style="italic">(μm)</text>
<text x="259.02" y="944.5" font-family='"Liberation Serif", serif' font-size="25" fill="#000" text-anchor="start" textLength="45.33" lengthAdjust="spacingAndGlyphs" >40%</text>
<text x="299.93" y="978.0" font-family='"Liberation Serif", serif' font-size="25" fill="#000" text-anchor="start" textLength="45.62" lengthAdjust="spacingAndGlyphs" >65%</text>
<text x="450.0" y="1039.8" font-family='"Liberation Serif", serif' font-size="25" fill="#000" text-anchor="start" textLength="45.55" lengthAdjust="spacingAndGlyphs" >90%</text>
<text x="300.22" y="1084.0" font-family='"Liberation Serif", serif' font-size="25" fill="#000" text-anchor="start" textLength="45.12" lengthAdjust="spacingAndGlyphs" >40%</text>
<text x="374.64" y="1114.5" font-family='"Liberation Serif", serif' font-size="25" fill="#000" text-anchor="start" textLength="45.41" lengthAdjust="spacingAndGlyphs" >65%</text>
<text x="541.58" y="1178.75" font-family='"Liberation Serif", serif' font-size="25" fill="#000" text-anchor="start" textLength="44.5" lengthAdjust="spacingAndGlyphs" >87%</text>
<text x="356.22" y="1225.8" font-family='"Liberation Serif", serif' font-size="25" fill="#000" text-anchor="start" textLength="45.43" lengthAdjust="spacingAndGlyphs" >40%</text>
<text x="447.24" y="1261.3" font-family='"Liberation Serif", serif' font-size="25" fill="#000" text-anchor="start" textLength="45.31" lengthAdjust="spacingAndGlyphs" >65%</text>
<text x="400.66" y="1320.8" font-family='"Liberation Serif", serif' font-size="25" fill="#000" text-anchor="start" textLength="106.08" lengthAdjust="spacingAndGlyphs" ><tspan font-style="italic">ϕ</tspan><tspan font-style="italic" font-size="17" dy="5">A</tspan><tspan dy="-5"> = 70%</tspan></text>
<path d="M499.2,918.75 Q505.7,918.75 505.7,925.75 L505.7,962.3 Q505.7,969.3 512.0,969.3 Q505.7,969.3 505.7,976.3 L505.7,1012.7 Q505.7,1019.7 499.2,1019.7" fill="none" stroke="#4472C4" stroke-width="2"/>
<path d="M584.2,1056.2 Q590.5,1056.2 590.5,1063.2 L590.5,1099.75 Q590.5,1106.75 596.5,1106.75 Q590.5,1106.75 590.5,1113.75 L590.5,1150.0 Q590.5,1157.0 584.2,1157.0" fill="none" stroke="#4472C4" stroke-width="2"/>
<path d="M500.8,1199.7 Q506.7,1199.7 506.7,1206.7 L506.7,1242.5 Q506.7,1249.5 513.5,1249.5 Q506.7,1249.5 506.7,1256.5 L506.7,1293.0 Q506.7,1300.0 500.8,1300.0" fill="none" stroke="#4472C4" stroke-width="2"/>
<text x="513.95" y="977.7" font-family='"Liberation Sans", sans-serif' font-size="28.4" fill="#4472C4" text-anchor="start" textLength="48.14" lengthAdjust="spacingAndGlyphs" ><tspan font-family='"Liberation Serif", serif' stroke="#4472C4" stroke-width="0.6">Λ</tspan>=5</text>
<text x="600.44" y="1113.5" font-family='"Liberation Sans", sans-serif' font-size="28.4" fill="#4472C4" text-anchor="start" textLength="48.87" lengthAdjust="spacingAndGlyphs" ><tspan font-family='"Liberation Serif", serif' stroke="#4472C4" stroke-width="0.6">Λ</tspan>=2</text>
<text x="519.74" y="1257.2" font-family='"Liberation Sans", sans-serif' font-size="28.4" fill="#4472C4" text-anchor="start" textLength="71.37" lengthAdjust="spacingAndGlyphs" ><tspan font-family='"Liberation Serif", serif' stroke="#4472C4" stroke-width="0.6">Λ</tspan>=1.5</text>
<line x1="396.4" y1="818.3" x2="396.4" y2="1430.0" stroke="#FF0000" stroke-width="2.2" stroke-dasharray="2 2"/>
<text x="398.63" y="840.8" font-family='"Liberation Sans", sans-serif' font-size="25.4" fill="#FF0000" text-anchor="start" textLength="73.88" lengthAdjust="spacingAndGlyphs" >rafting</text>
<line x1="396.0" y1="862.1" x2="454.9" y2="862.1" stroke="#FF0000" stroke-width="3.3"/>
<path d="M452.9,857.3000000000001 L462.9,862.1 L452.9,866.9 Z" fill="#FF0000"/>
<rect x="776.5" y="825.6" width="412.79999999999995" height="299.9999999999999" fill="#fff" stroke="#A6A6A6" stroke-width="1.3"/>
<rect x="784.7" y="834.3" width="45.799999999999955" height="22.0" fill="#000" stroke="#2F4F8F" stroke-width="1.5"/>
<rect x="784.7" y="868.2" width="45.799999999999955" height="21.59999999999991" fill="#979797" stroke="#2F4F8F" stroke-width="1.5"/>
<rect x="784.7" y="905.2" width="45.799999999999955" height="21.299999999999955" fill="url(#pRedL)" stroke="#2F4F8F" stroke-width="1.5"/>
<rect x="784.7" y="943.9" width="45.799999999999955" height="21.5" fill="url(#pYel)" stroke="#2F4F8F" stroke-width="1.5"/>
<rect x="784.7" y="984.4" width="45.799999999999955" height="22.200000000000045" fill="url(#pHstB)" stroke="#2F4F8F" stroke-width="1.5"/>
<rect x="784.7" y="1020.4" width="45.799999999999955" height="22.000000000000114" fill="url(#pDiagB)" stroke="#2F4F8F" stroke-width="1.5"/>
<rect x="784.7" y="1055.3" width="45.799999999999955" height="21.200000000000045" fill="url(#pChkB)" stroke="#2F4F8F" stroke-width="1.5"/>
<text x="835.21" y="851.2" font-family='"Liberation Sans", sans-serif' font-size="19.0" fill="#000" text-anchor="start" textLength="195.29" lengthAdjust="spacingAndGlyphs" >Irregular Core Particle,</text>
<text x="1035.31" y="851.2" font-family='"Liberation Serif", serif' font-size="21.0" fill="#000" text-anchor="start" textLength="10.61" lengthAdjust="spacingAndGlyphs" font-style="italic">ρ</text>
<text x="1052.54" y="850.9000000000001" font-family='"Liberation Serif", serif' font-size="21.0" fill="#000" text-anchor="start" textLength="15.39" lengthAdjust="spacingAndGlyphs" >=</text>
<text x="1073.21" y="851.2" font-family='"Liberation Serif", serif' font-size="21.0" fill="#000" text-anchor="start" textLength="47.46" lengthAdjust="spacingAndGlyphs" >1864</text>
<text x="1125.38" y="851.2" font-family='"Liberation Sans", sans-serif' font-size="19.0" fill="#000" text-anchor="start" textLength="42.41" lengthAdjust="spacingAndGlyphs" >kg m</text>
<text x="1167.13" y="844.2" font-family='"Liberation Sans", sans-serif' font-size="12.5" fill="#000" text-anchor="start" textLength="11.44" lengthAdjust="spacingAndGlyphs" >-3</text>
<text x="836.14" y="884.3" font-family='"Liberation Sans", sans-serif' font-size="19.0" fill="#000" text-anchor="start" textLength="198.56" lengthAdjust="spacingAndGlyphs" >Spherical Core Particle,</text>
<text x="1039.6" y="884.3" font-family='"Liberation Serif", serif' font-size="21.0" fill="#000" text-anchor="start" textLength="11.42" lengthAdjust="spacingAndGlyphs" font-style="italic">ρ</text>
<text x="1056.87" y="884.0" font-family='"Liberation Serif", serif' font-size="21.0" fill="#000" text-anchor="start" textLength="16.24" lengthAdjust="spacingAndGlyphs" >=</text>
<text x="1078.26" y="884.3" font-family='"Liberation Serif", serif' font-size="21.0" fill="#000" text-anchor="start" textLength="46.4" lengthAdjust="spacingAndGlyphs" >1864</text>
<text x="1130.39" y="884.3" font-family='"Liberation Sans", sans-serif' font-size="19.0" fill="#000" text-anchor="start" textLength="42.09" lengthAdjust="spacingAndGlyphs" >kg m</text>
<text x="1171.83" y="877.3" font-family='"Liberation Sans", sans-serif' font-size="12.5" fill="#000" text-anchor="start" textLength="11.44" lengthAdjust="spacingAndGlyphs" >-3</text>
<text x="836.96" y="922.8" font-family='"Liberation Sans", sans-serif' font-size="19.0" fill="#000" text-anchor="start" textLength="91.47" lengthAdjust="spacingAndGlyphs" >Aggregate,</text>
<text x="934.06" y="922.8" font-family='"Liberation Serif", serif' font-size="21.0" fill="#000" text-anchor="start" textLength="10.61" lengthAdjust="spacingAndGlyphs" font-style="italic">ρ</text>
<text x="950.89" y="922.5" font-family='"Liberation Serif", serif' font-size="21.0" fill="#000" text-anchor="start" textLength="15.45" lengthAdjust="spacingAndGlyphs" >=</text>
<text x="971.96" y="922.8" font-family='"Liberation Serif", serif' font-size="21.0" fill="#000" text-anchor="start" textLength="46.42" lengthAdjust="spacingAndGlyphs" >1118</text>
<text x="1022.92" y="922.8" font-family='"Liberation Sans", sans-serif' font-size="19.0" fill="#000" text-anchor="start" textLength="42.78" lengthAdjust="spacingAndGlyphs" >kg m</text>
<text x="1065.03" y="915.8" font-family='"Liberation Sans", sans-serif' font-size="12.5" fill="#000" text-anchor="start" textLength="11.44" lengthAdjust="spacingAndGlyphs" >-3</text>
<text x="836.96" y="961.3" font-family='"Liberation Sans", sans-serif' font-size="19.0" fill="#000" text-anchor="start" textLength="91.47" lengthAdjust="spacingAndGlyphs" >Aggregate,</text>
<text x="934.06" y="961.3" font-family='"Liberation Serif", serif' font-size="21.0" fill="#000" text-anchor="start" textLength="10.61" lengthAdjust="spacingAndGlyphs" font-style="italic">ρ</text>
<text x="950.89" y="961.0" font-family='"Liberation Serif", serif' font-size="21.0" fill="#000" text-anchor="start" textLength="15.45" lengthAdjust="spacingAndGlyphs" >=</text>
<text x="973.78" y="961.3" font-family='"Liberation Serif", serif' font-size="21.0" fill="#000" text-anchor="start" textLength="33.71" lengthAdjust="spacingAndGlyphs" >652</text>
<text x="1012.45" y="961.3" font-family='"Liberation Sans", sans-serif' font-size="19.0" fill="#000" text-anchor="start" textLength="41.72" lengthAdjust="spacingAndGlyphs" >kg m</text>
<text x="1053.53" y="954.3" font-family='"Liberation Sans", sans-serif' font-size="12.5" fill="#000" text-anchor="start" textLength="11.44" lengthAdjust="spacingAndGlyphs" >-3</text>
<text x="836.96" y="1000.3" font-family='"Liberation Sans", sans-serif' font-size="19.0" fill="#000" text-anchor="start" textLength="91.47" lengthAdjust="spacingAndGlyphs" >Aggregate,</text>
<text x="934.06" y="1000.3" font-family='"Liberation Serif", serif' font-size="21.0" fill="#000" text-anchor="start" textLength="10.61" lengthAdjust="spacingAndGlyphs" font-style="italic">ρ</text>
<text x="950.89" y="1000.0" font-family='"Liberation Serif", serif' font-size="21.0" fill="#000" text-anchor="start" textLength="15.45" lengthAdjust="spacingAndGlyphs" >=</text>
<text x="973.45" y="1000.3" font-family='"Liberation Serif", serif' font-size="21.0" fill="#000" text-anchor="start" textLength="33.66" lengthAdjust="spacingAndGlyphs" >560</text>
<text x="1012.45" y="1000.3" font-family='"Liberation Sans", sans-serif' font-size="19.0" fill="#000" text-anchor="start" textLength="41.72" lengthAdjust="spacingAndGlyphs" >kg m</text>
<text x="1053.53" y="993.3" font-family='"Liberation Sans", sans-serif' font-size="12.5" fill="#000" text-anchor="start" textLength="11.44" lengthAdjust="spacingAndGlyphs" >-3</text>
<text x="836.96" y="1038.7" font-family='"Liberation Sans", sans-serif' font-size="19.0" fill="#000" text-anchor="start" textLength="91.47" lengthAdjust="spacingAndGlyphs" >Aggregate,</text>
<text x="934.06" y="1038.7" font-family='"Liberation Serif", serif' font-size="21.0" fill="#000" text-anchor="start" textLength="10.61" lengthAdjust="spacingAndGlyphs" font-style="italic">ρ</text>
<text x="950.89" y="1038.4" font-family='"Liberation Serif", serif' font-size="21.0" fill="#000" text-anchor="start" textLength="15.45" lengthAdjust="spacingAndGlyphs" >=</text>
<text x="973.76" y="1038.7" font-family='"Liberation Serif", serif' font-size="21.0" fill="#000" text-anchor="start" textLength="33.73" lengthAdjust="spacingAndGlyphs" >242</text>
<text x="1012.45" y="1038.7" font-family='"Liberation Sans", sans-serif' font-size="19.0" fill="#000" text-anchor="start" textLength="41.72" lengthAdjust="spacingAndGlyphs" >kg m</text>
<text x="1053.53" y="1031.7" font-family='"Liberation Sans", sans-serif' font-size="12.5" fill="#000" text-anchor="start" textLength="11.44" lengthAdjust="spacingAndGlyphs" >-3</text>
<text x="836.96" y="1070.4" font-family='"Liberation Sans", sans-serif' font-size="19.0" fill="#000" text-anchor="start" textLength="91.47" lengthAdjust="spacingAndGlyphs" >Aggregate,</text>
<text x="934.06" y="1070.4" font-family='"Liberation Serif", serif' font-size="21.0" fill="#000" text-anchor="start" textLength="10.61" lengthAdjust="spacingAndGlyphs" font-style="italic">ρ</text>
<text x="950.89" y="1070.1000000000001" font-family='"Liberation Serif", serif' font-size="21.0" fill="#000" text-anchor="start" textLength="15.45" lengthAdjust="spacingAndGlyphs" >=</text>
<text x="972.75" y="1070.4" font-family='"Liberation Serif", serif' font-size="21.0" fill="#000" text-anchor="start" textLength="34.18" lengthAdjust="spacingAndGlyphs" >186</text>
<text x="1012.45" y="1070.4" font-family='"Liberation Sans", sans-serif' font-size="19.0" fill="#000" text-anchor="start" textLength="41.72" lengthAdjust="spacingAndGlyphs" >kg m</text>
<text x="1053.53" y="1063.4" font-family='"Liberation Sans", sans-serif' font-size="12.5" fill="#000" text-anchor="start" textLength="11.44" lengthAdjust="spacingAndGlyphs" >-3</text>
<ellipse cx="808.7" cy="1102.6" rx="12.8" ry="12" fill="#fff" stroke="#2F4F8F" stroke-width="1.4"/>
<text x="808.7" y="1109.8" font-family='"Liberation Serif", serif' font-size="22" fill="#000" text-anchor="middle" stroke="#000" stroke-width="0.4">i</text>
<text x="835.16" y="1108.1" font-family='"Liberation Sans", sans-serif' font-size="19.0" fill="#000" text-anchor="start" textLength="108.98" lengthAdjust="spacingAndGlyphs" >i-th scenario</text>
</svg>
</body></html>
